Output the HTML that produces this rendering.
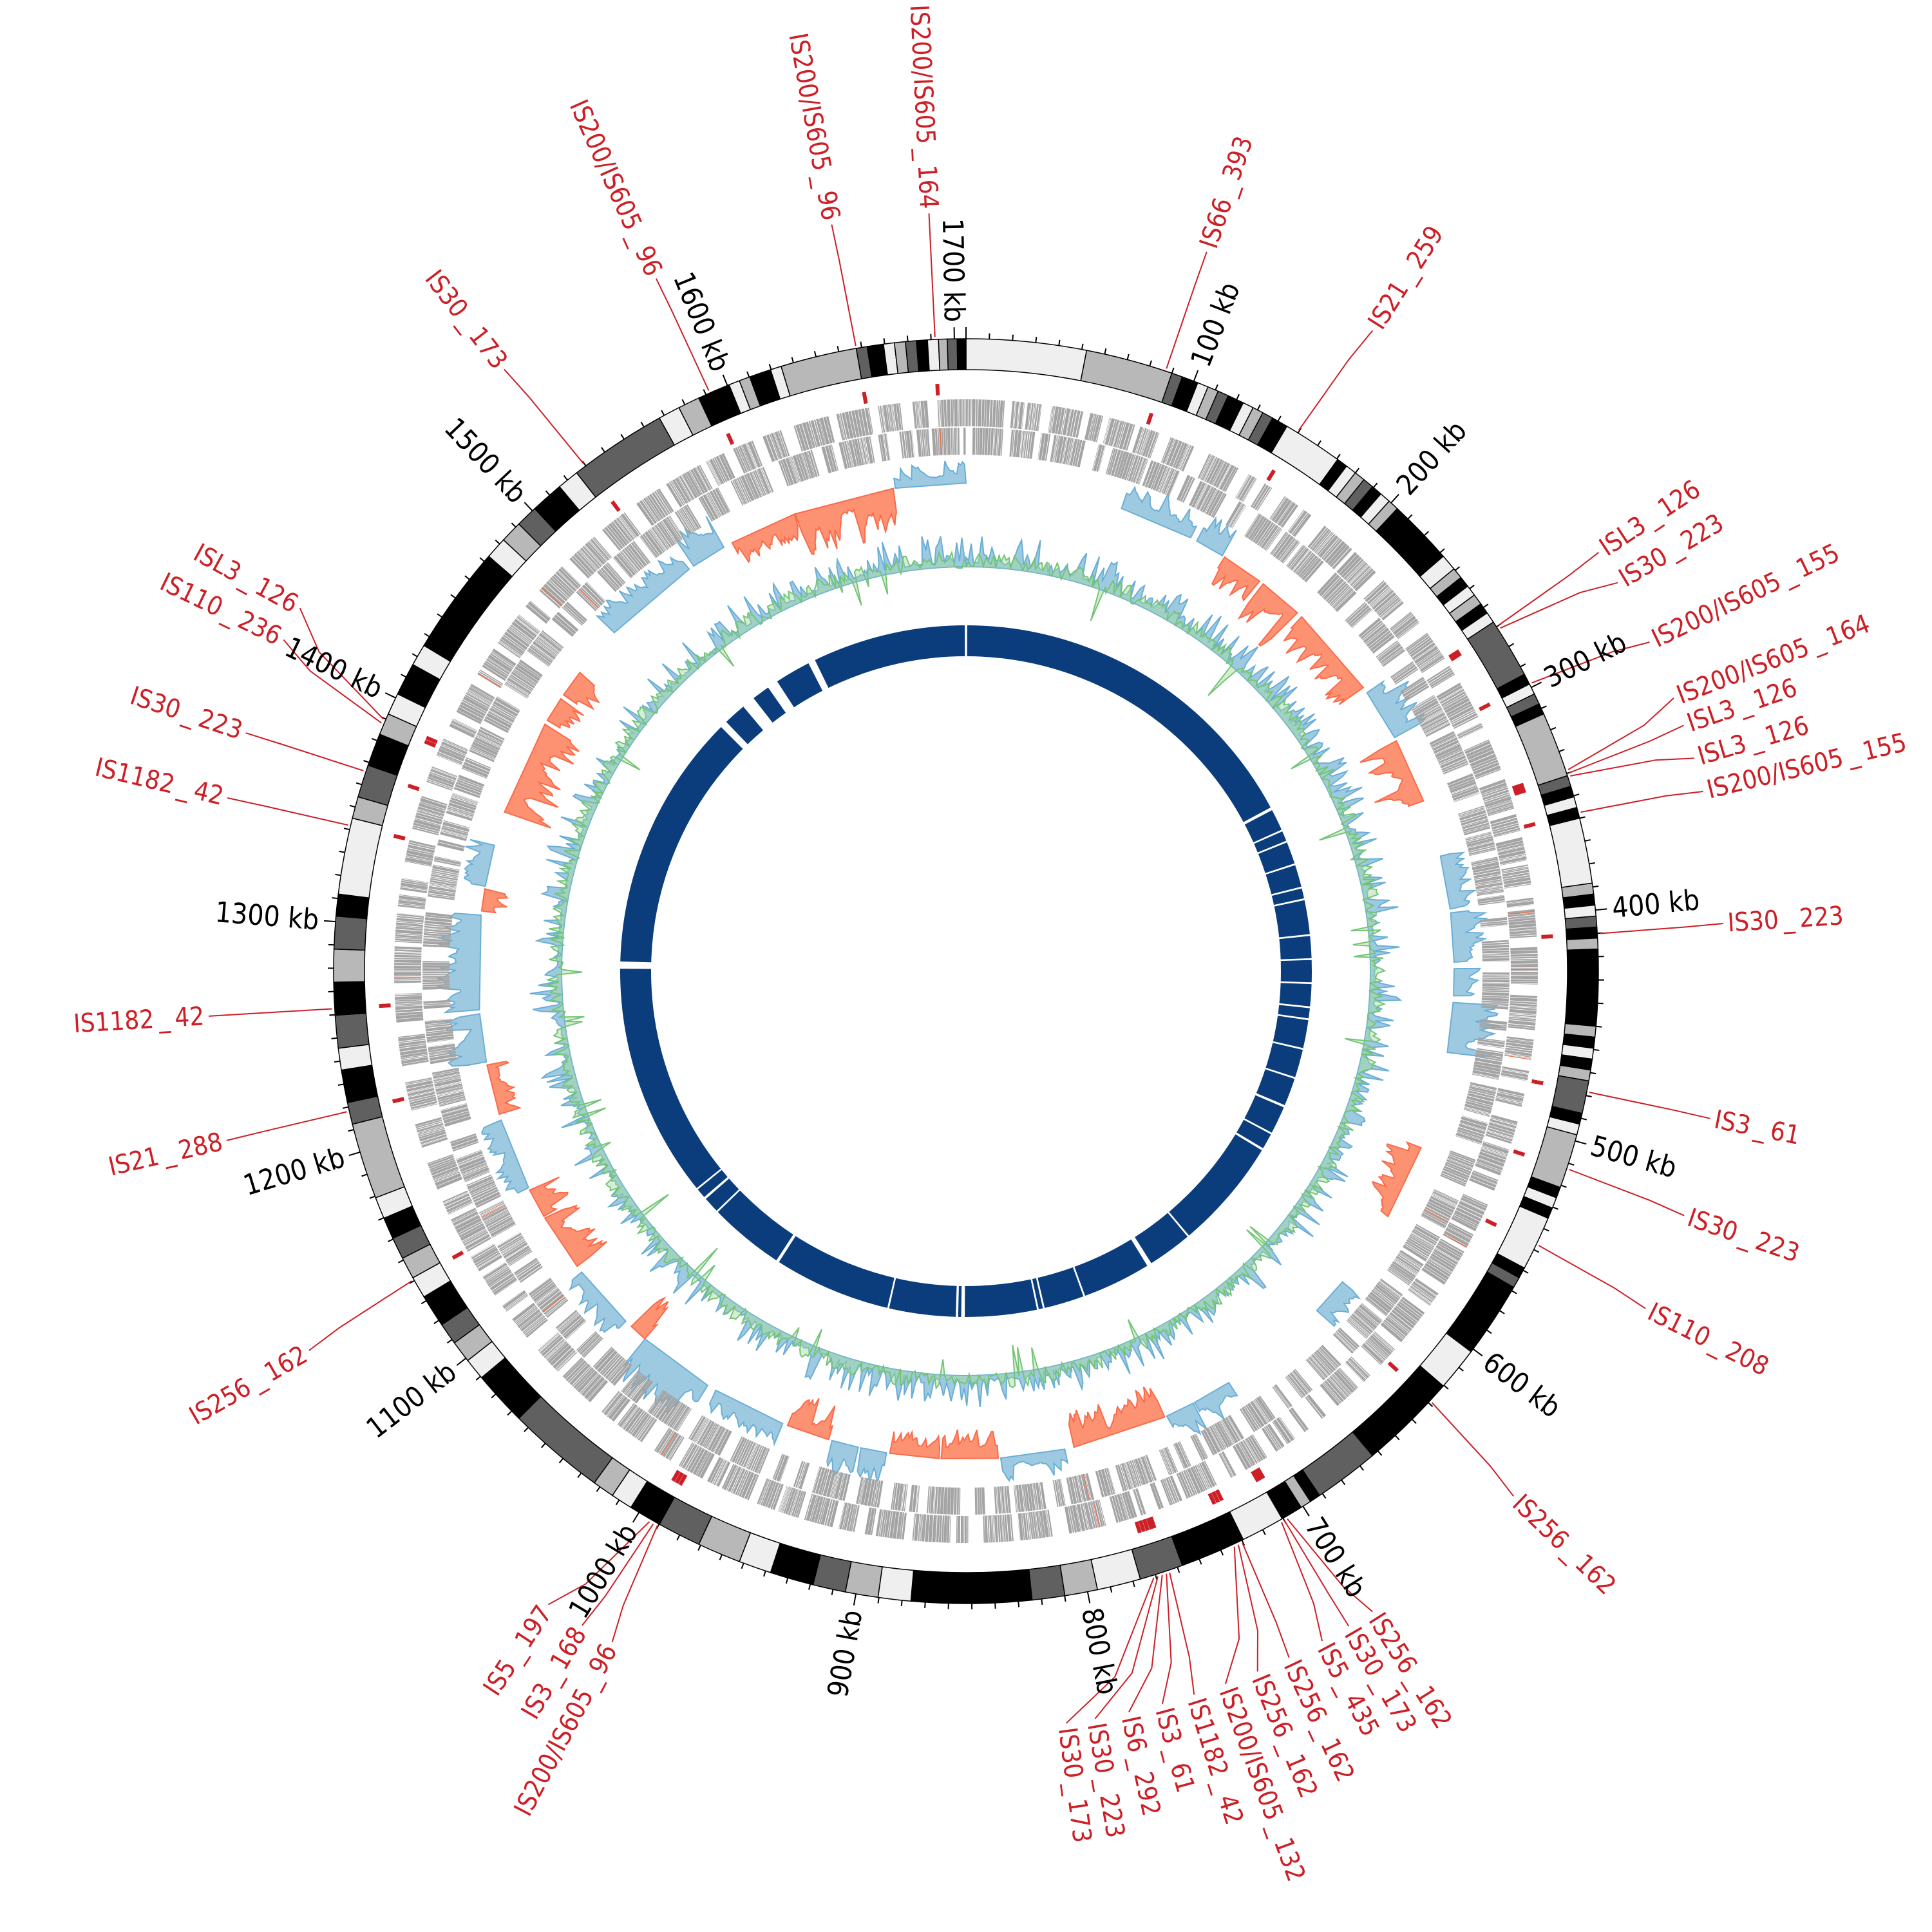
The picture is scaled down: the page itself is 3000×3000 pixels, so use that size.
<!DOCTYPE html>
<html><head><meta charset="utf-8"><style>
html,body{margin:0;padding:0;background:#fff;width:3000px;height:3000px;overflow:hidden}
svg{display:block}
text{font-family:"DejaVu Sans Condensed","DejaVu Sans","Liberation Sans Narrow","Liberation Sans",sans-serif;font-stretch:condensed}
</style></head><body>
<svg id="s" xmlns="http://www.w3.org/2000/svg" width="3000" height="3000" viewBox="0 0 3000 3000">
<rect width="3000" height="3000" fill="#fff"/>
<g id="inner"></g>
<g id="gc"></g>
<g id="skew"></g>
<g id="genes"></g>
<g id="dash"></g>
<g id="bands"></g>
<g id="tickmarks" stroke="#000" stroke-width="2"></g>
<g id="leaders" fill="none" stroke="#cc1f26" stroke-width="2"></g>
<g id="ticklabs" fill="#000" font-size="44">
<text>100 kb</text><text>200 kb</text><text>300 kb</text><text>400 kb</text><text>500 kb</text><text>600 kb</text><text>700 kb</text><text>800 kb</text><text>900 kb</text><text>1000 kb</text><text>1100 kb</text><text>1200 kb</text><text>1300 kb</text><text>1400 kb</text><text>1500 kb</text><text>1600 kb</text><text>1700 kb</text>
</g>
<g id="labs" fill="#cc1f26" font-size="40">
<text>IS66&#8201;_&#8201;393</text>
<text>IS21&#8201;_&#8201;259</text>
<text>ISL3&#8201;_&#8201;126</text>
<text>IS30&#8201;_&#8201;223</text>
<text>IS200/IS605&#8201;_&#8201;155</text>
<text>IS200/IS605&#8201;_&#8201;164</text>
<text>ISL3&#8201;_&#8201;126</text>
<text>ISL3&#8201;_&#8201;126</text>
<text>IS200/IS605&#8201;_&#8201;155</text>
<text>IS30&#8201;_&#8201;223</text>
<text>IS3&#8201;_&#8201;61</text>
<text>IS30&#8201;_&#8201;223</text>
<text>IS110&#8201;_&#8201;208</text>
<text>IS256&#8201;_&#8201;162</text>
<text>IS256&#8201;_&#8201;162</text>
<text>IS30&#8201;_&#8201;173</text>
<text>IS5&#8201;_&#8201;435</text>
<text>IS256&#8201;_&#8201;162</text>
<text>IS256&#8201;_&#8201;162</text>
<text>IS200/IS605&#8201;_&#8201;132</text>
<text>IS1182&#8201;_&#8201;42</text>
<text>IS3&#8201;_&#8201;61</text>
<text>IS6&#8201;_&#8201;292</text>
<text>IS30&#8201;_&#8201;223</text>
<text>IS30&#8201;_&#8201;173</text>
<text>IS200/IS605&#8201;_&#8201;164</text>
<text>IS200/IS605&#8201;_&#8201;96</text>
<text>IS200/IS605&#8201;_&#8201;96</text>
<text>IS30&#8201;_&#8201;173</text>
<text>ISL3&#8201;_&#8201;126</text>
<text>IS110&#8201;_&#8201;236</text>
<text>IS30&#8201;_&#8201;223</text>
<text>IS1182&#8201;_&#8201;42</text>
<text>IS1182&#8201;_&#8201;42</text>
<text>IS21&#8201;_&#8201;288</text>
<text>IS256&#8201;_&#8201;162</text>
<text>IS5&#8201;_&#8201;197</text>
<text>IS3&#8201;_&#8201;168</text>
<text>IS200/IS605&#8201;_&#8201;96</text>
</g>
</svg>
<script>
(function(){
var NS="http://www.w3.org/2000/svg",cx=1500,cy=1508,D=Math.PI/180;
function P(r,a){return [cx+r*Math.sin(a*D),cy-r*Math.cos(a*D)];}
function f(p){return p[0].toFixed(1)+","+p[1].toFixed(1);}
function sector(r1,r2,a1,a2){var l=(a2-a1)>180?1:0;return "M"+f(P(r2,a1))+"A"+r2+","+r2+" 0 "+l+" 1 "+f(P(r2,a2))+"L"+f(P(r1,a2))+"A"+r1+","+r1+" 0 "+l+" 0 "+f(P(r1,a1))+"Z";}
function el(g,tag,at){var e=document.createElementNS(NS,tag);for(var k in at)e.setAttribute(k,at[k]);g.appendChild(e);return e;}
var seed=12345;function rnd(){seed|=0;seed=seed+0x6D2B79F5|0;var t=Math.imul(seed^seed>>>15,1|seed);t=t+Math.imul(t^t>>>7,61|t)^t;return((t^t>>>14)>>>0)/4294967296;}
var L="#efefef",G="#b8b8b8",Dk="#606060",K="#000";
var B=[[0,11,L],[11,19,G],[19,20,Dk],[20,21.5,K],[21.5,22.5,L],[22.5,23.5,G],[23.5,24.5,Dk],[24.5,26,K],[26,27,L],[27,28,G],[28,29,Dk],[29,30.5,K],[30.5,36,L],[36,37,K],[37,38,L],[38,39,G],[39,40,Dk],[40,41,K],[41,42,L],[42,43,G],[43,49,K],[49,50.5,L],[50.5,51.5,G],[51.5,52.5,K],[52.5,53.5,L],[53.5,54.5,G],[54.5,55.5,K],[55.5,56.5,L],[56.5,62,Dk],[62,63,K],[63,64,L],[64,65,Dk],[65,66,K],[66,72,G],[72,73,Dk],[73,74,K],[74,75,L],[75,76,K],[76,82,L],[82,83,G],[83,84,K],[84,85,L],[85,86,Dk],[86,87,K],[87,88,G],[88,95,K],[95,96,G],[96,97,K],[97,98,L],[98,99,K],[99,100,G],[100,103,Dk],[103,104,K],[104,105,L],[105,110,G],[110,111,K],[111,112,L],[112,113,K],[113,118,L],[118,119,K],[119,120,Dk],[120,127,K],[127,131,L],[131,140,K],[140,146,Dk],[146,147,K],[147,148,G],[148,150,K],[150,154,L],[154,160,K],[160,164,Dk],[164,168,L],[168,171,G],[171,174,Dk],[174,185,K],[185,188,L],[188,191,G],[191,194,Dk],[194,198,K],[198,201,L],[201,205,G],[205,209,Dk],[209,212,K],[212,214,L],[214,216,G],[216,225,Dk],[225,230,K],[230,232,L],[232,234,G],[234,236,Dk],[236,239,K],[239,241,L],[241,243,G],[243,245,Dk],[245,247,K],[247,249,L],[249,256,G],[256,258,Dk],[258,261,K],[261,263,L],[263,266,Dk],[266,269,K],[269,272,G],[272,275,Dk],[275,277,K],[277,284,L],[284,286,G],[286,289,Dk],[289,292,K],[292,294,G],[294,296,L],[296,299,K],[299,301,L],[301,311,K],[311,313,L],[313,315,G],[315,317,Dk],[317,320,K],[320,322,L],[322,331,Dk],[331,333,L],[333,335,G],[335,338,K],[338,339,L],[339,340,G],[340,342,K],[342,343,L],[343,350,G],[350,351,Dk],[351,352.5,K],[352.5,353.5,L],[353.5,354.5,G],[354.5,355.5,Dk],[355.5,356.5,K],[356.5,357.5,L],[357.5,358.3,G],[358.3,359.2,Dk],[359.2,360,K]];
var gb=document.getElementById("bands");
B.forEach(function(b){el(gb,"path",{d:sector(934,982,b[0],b[1]),fill:b[2],stroke:"#000","stroke-width":"1.5"});});
var gt=document.getElementById("tickmarks"),deg=360/1705;
for(var k=0;k*10<=1705;k++){var a=k*10*deg,len=(k%10==0)?18:9;var p1=P(982,a),p2=P(982+len,a);el(gt,"line",{x1:p1[0],y1:p1[1],x2:p2[0],y2:p2[1]});}
var tl=document.querySelectorAll("#ticklabs text");
for(var i=0;i<tl.length;i++){var a=(i+1)*100*deg,p=P(1008,a);tl[i].setAttribute("x",p[0]);tl[i].setAttribute("y",p[1]);tl[i].setAttribute("dominant-baseline","central");
 if(a<180){tl[i].setAttribute("text-anchor","start");tl[i].setAttribute("transform","rotate("+(a-90)+" "+p[0]+" "+p[1]+")");}
 else{tl[i].setAttribute("text-anchor","end");tl[i].setAttribute("transform","rotate("+(a+90)+" "+p[0]+" "+p[1]+")");}}
var LD=[[18.5,18.4],[32.4,31.6],[56.5,57.0],[59.2,57.3],[64.3,63.0],[68.9,71.5],[71.1,71.8],[73.7,72.1],[76.3,75.5],[86.4,86.6],[101.2,101.0],[108.8,108.2],[116.4,115.6],[133.8,132.8],
[147.6,149.6],[149.7,149.9],[152.0,150.2],[154.8,154.2],[157.4,154.6],[160.0,155.0],[162.5,161.3],[165.0,161.6],[167.6,162.0],[170.2,162.4],[172.4,162.8],
[357.2,357.2],[349.8,350.0],[335.9,336.1],[322.5,323.0],[298.6,293.4],[295.9,293.0],[288.3,288.4],[283.2,283.3],[266.6,266.6],[257.1,257.2],[240.0,240.8],[213.4,209.9],[210.4,209.5],[207.8,209.1]];
var lb=document.querySelectorAll("#labs text"),gl=document.getElementById("leaders"),gd=document.getElementById("dash");
for(var i=0;i<lb.length&&i<LD.length;i++){var la=LD[i][0],pa=LD[i][1],p=P(1185,la);
 lb[i].setAttribute("x",p[0]);lb[i].setAttribute("y",p[1]);lb[i].setAttribute("dominant-baseline","central");
 if(la<180){lb[i].setAttribute("text-anchor","start");lb[i].setAttribute("transform","rotate("+(la-90)+" "+p[0]+" "+p[1]+")");}
 else{lb[i].setAttribute("text-anchor","end");lb[i].setAttribute("transform","rotate("+(la+90)+" "+p[0]+" "+p[1]+")");}
 var q1=P(986,pa),q2=P(1120,pa+(la-pa)*0.55),q3=P(1178,la);
 el(gl,"polyline",{points:f(q1)+" "+f(q2)+" "+f(q3)});
 var d1=P(895,pa),d2=P(913,pa);el(gd,"line",{x1:d1[0],y1:d1[1],x2:d2[0],y2:d2[1],stroke:"#cc1f26","stroke-width":"6"});
}
var gg=document.getElementById("genes"),gpath="",rpath="";
[[846,888],[802,844]].forEach(function(s,si){var a=si*0.7;
 while(a<360){var on=0.5+rnd()*3.5,off=0.3+rnd()*1.4;var e=Math.min(a+on,360);var b=a;
  while(b<e){var w=0.04+rnd()*0.3;var be=Math.min(b+w,e);gpath+=sector(s[0],s[1],b,be);b=be+0.03+rnd()*0.04;}
  if(rnd()<0.08){var ra=a+rnd()*on;rpath+=sector(s[0],s[1],ra,ra+0.08);}
  a=e+off;}});
el(gg,"path",{d:gpath,fill:"#a4a4a4"});el(gg,"path",{d:rpath,fill:"#f46d43"});
var gs=document.getElementById("skew"),base=758,step=0.22,a=0;
while(a<360){var run=2+rnd()*10,type=rnd();var e=Math.min(a+run,360);
 if(type<0.9){var blue=rnd()<0.55,amp=35+rnd()*45;var pts=[],b=a,v=amp*0.5;
  while(b<=e){var t=rnd();v=(t<0.25)?amp*(0.7+0.3*rnd()):v*0.75+amp*0.15*rnd();pts.push(f(P(blue?base+v:base-v,b)));b+=step;}
  var back=f(P(base,e))+" "+f(P(base,a));
  el(gs,"polygon",{points:pts.join(" ")+" "+back,fill:blue?"#9ecae1":"#fc9272",stroke:blue?"#6baed6":"#fb6a4a","stroke-width":"2"});}
 a=e+rnd()*1.2;}
var gc=document.getElementById("gc"),pts=[],lp=[];
for(var b=0;b<=360;b+=0.35){var v=4+Math.pow(rnd(),3)*45;pts.push(f(P(630+v,b)));var g=640+(rnd()-0.55)*26;if(rnd()<0.04)g-=25+rnd()*35;lp.push(f(P(g,b)));}
var basepts=[];for(var b=360;b>=0;b-=1)basepts.push(f(P(628,b)));
el(gc,"polygon",{points:pts.join(" ")+" "+basepts.join(" "),fill:"#9ecae1",stroke:"#6baed6","stroke-width":"2"});
el(gc,"polygon",{points:lp.join(" ")+" "+basepts.join(" "),fill:"#a1d99b","fill-opacity":"0.45",stroke:"none"});
el(gc,"polyline",{points:lp.join(" "),fill:"none",stroke:"#74c476","stroke-width":"2"});
var gi=document.getElementById("inner");
el(gi,"circle",{cx:cx,cy:cy,r:513,fill:"none",stroke:"#0b3d7c","stroke-width":"48"});
var gaps=[[0,0.4],[62,0.5],[66,0.3],[68,0.3],[72,0.3],[76,0.3],[78,0.3],[84,0.3],[88,0.3],[92,0.3],[96,0.3],[98,0.3],[103,0.3],[108,0.3],[113,0.4],[118,0.3],[121,0.4],[140,0.3],[148,0.8],[160,0.3],[167,0.3],[168,0.3],[180.5,0.6],[181.5,0.4],[193,0.3],[213,0.5],[226,0.3],[229,0.4],[231,0.3],[271,1.2],[315.5,1.2],[321,2.2],[326,1.8],[333.5,1.2]];
gaps.forEach(function(g){el(gi,"path",{d:sector(486,540,g[0]-g[1]/2,g[0]+g[1]/2),fill:"#fff"});});
})();
</script>
</body></html>
